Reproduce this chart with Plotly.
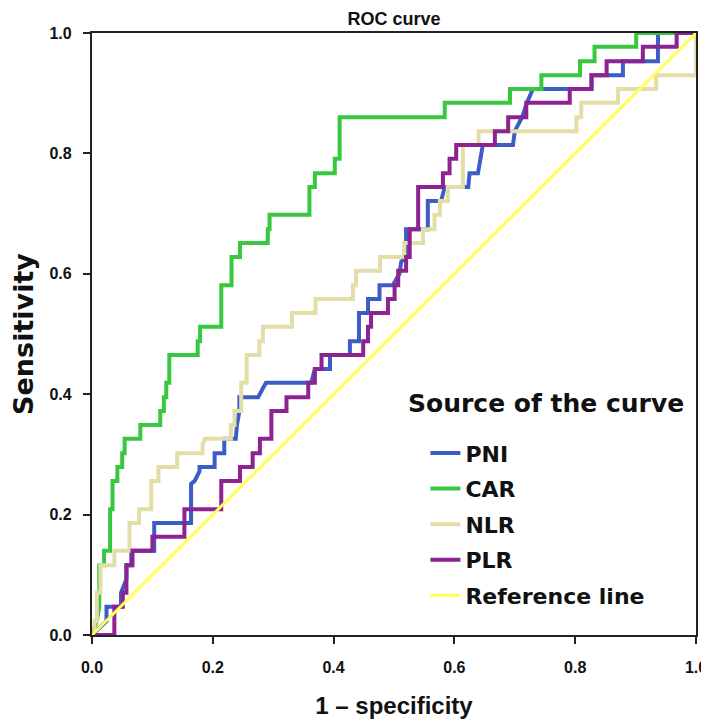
import plotly.graph_objects as go

# ROC curve coordinates (1 - specificity, sensitivity)
pni_points = [(0, 0), (0.010, 0.010), (0.024, 0.023), (0.024, 0.047), (0.048, 0.047), (0.048, 0.070),
              (0.057, 0.093), (0.057, 0.116), (0.065, 0.116), (0.065, 0.140), (0.103, 0.140), (0.103, 0.186),
              (0.164, 0.186), (0.164, 0.251), (0.170, 0.256), (0.178, 0.272), (0.178, 0.279), (0.203, 0.279),
              (0.203, 0.302), (0.219, 0.302), (0.219, 0.326), (0.238, 0.326), (0.240, 0.349), (0.244, 0.372),
              (0.244, 0.395), (0.275, 0.395), (0.288, 0.419), (0.363, 0.419), (0.369, 0.442), (0.394, 0.442),
              (0.394, 0.465), (0.427, 0.465), (0.427, 0.488), (0.442, 0.488), (0.442, 0.535), (0.457, 0.535),
              (0.457, 0.558), (0.476, 0.558), (0.476, 0.581), (0.498, 0.581), (0.509, 0.600), (0.512, 0.620),
              (0.520, 0.628), (0.520, 0.674), (0.556, 0.674), (0.556, 0.721), (0.578, 0.721), (0.584, 0.744),
              (0.623, 0.744), (0.625, 0.767), (0.639, 0.767), (0.647, 0.814), (0.697, 0.814), (0.700, 0.837),
              (0.712, 0.860), (0.720, 0.884), (0.730, 0.907), (0.827, 0.907), (0.827, 0.930), (0.879, 0.930),
              (0.879, 0.953), (0.937, 0.953), (0.937, 1.0), (1.0, 1.0)]

car_points = [(0, 0), (0.008, 0.023), (0.012, 0.047), (0.012, 0.116), (0.020, 0.116), (0.020, 0.140),
              (0.030, 0.140), (0.030, 0.209), (0.034, 0.209), (0.034, 0.256), (0.042, 0.256), (0.042, 0.279),
              (0.050, 0.279), (0.050, 0.302), (0.054, 0.302), (0.054, 0.326), (0.080, 0.326), (0.080, 0.349),
              (0.113, 0.349), (0.113, 0.372), (0.119, 0.372), (0.119, 0.395), (0.123, 0.395), (0.123, 0.419),
              (0.128, 0.419), (0.128, 0.465), (0.175, 0.465), (0.175, 0.488), (0.179, 0.488), (0.179, 0.512),
              (0.214, 0.512), (0.214, 0.581), (0.231, 0.581), (0.231, 0.628), (0.245, 0.628), (0.245, 0.651),
              (0.291, 0.651), (0.291, 0.674), (0.294, 0.674), (0.294, 0.698), (0.360, 0.698), (0.360, 0.744),
              (0.369, 0.744), (0.369, 0.767), (0.402, 0.767), (0.402, 0.791), (0.410, 0.791), (0.410, 0.860),
              (0.584, 0.860), (0.584, 0.884), (0.692, 0.884), (0.692, 0.907), (0.744, 0.907), (0.744, 0.930),
              (0.808, 0.930), (0.808, 0.953), (0.832, 0.953), (0.832, 0.977), (0.901, 0.977), (0.901, 1.0),
              (1.0, 1.0)]

nlr_points = [(0, 0), (0.004, 0.0), (0.004, 0.023), (0.008, 0.023), (0.008, 0.070), (0.014, 0.070),
              (0.014, 0.116), (0.037, 0.116), (0.037, 0.140), (0.062, 0.140), (0.062, 0.186), (0.078, 0.186),
              (0.078, 0.209), (0.098, 0.209), (0.098, 0.256), (0.110, 0.256), (0.110, 0.279), (0.141, 0.279),
              (0.141, 0.302), (0.183, 0.302), (0.183, 0.316), (0.187, 0.326), (0.230, 0.326), (0.230, 0.349),
              (0.236, 0.349), (0.236, 0.372), (0.247, 0.372), (0.247, 0.419), (0.256, 0.419), (0.256, 0.465),
              (0.277, 0.465), (0.277, 0.488), (0.283, 0.488), (0.283, 0.512), (0.331, 0.512), (0.331, 0.535),
              (0.370, 0.535), (0.370, 0.558), (0.432, 0.558), (0.432, 0.581), (0.437, 0.581), (0.437, 0.605),
              (0.477, 0.605), (0.477, 0.628), (0.517, 0.628), (0.517, 0.651), (0.548, 0.651), (0.548, 0.674),
              (0.567, 0.674), (0.567, 0.698), (0.576, 0.698), (0.576, 0.721), (0.589, 0.721), (0.589, 0.744),
              (0.614, 0.744), (0.614, 0.814), (0.640, 0.814), (0.640, 0.837), (0.802, 0.837), (0.802, 0.860),
              (0.810, 0.860), (0.810, 0.884), (0.871, 0.884), (0.871, 0.907), (0.934, 0.907), (0.934, 0.930),
              (1.0, 0.930), (1.0, 1.0)]

plr_points = [(0, 0), (0.037, 0.0), (0.037, 0.047), (0.051, 0.047), (0.051, 0.070), (0.057, 0.070),
              (0.057, 0.116), (0.067, 0.116), (0.067, 0.140), (0.100, 0.140), (0.100, 0.163), (0.153, 0.163),
              (0.153, 0.209), (0.214, 0.209), (0.214, 0.256), (0.245, 0.256), (0.245, 0.279), (0.266, 0.279),
              (0.266, 0.302), (0.278, 0.302), (0.278, 0.326), (0.297, 0.326), (0.297, 0.372), (0.322, 0.372),
              (0.322, 0.395), (0.358, 0.395), (0.358, 0.419), (0.369, 0.419), (0.369, 0.442), (0.380, 0.442),
              (0.380, 0.465), (0.449, 0.465), (0.449, 0.488), (0.457, 0.488), (0.457, 0.512), (0.462, 0.512),
              (0.462, 0.535), (0.490, 0.535), (0.490, 0.558), (0.501, 0.558), (0.501, 0.581), (0.507, 0.581),
              (0.507, 0.605), (0.520, 0.605), (0.520, 0.628), (0.526, 0.628), (0.526, 0.674), (0.540, 0.674),
              (0.540, 0.744), (0.581, 0.744), (0.581, 0.767), (0.592, 0.767), (0.592, 0.791), (0.603, 0.791),
              (0.603, 0.814), (0.667, 0.814), (0.667, 0.837), (0.689, 0.837), (0.689, 0.860), (0.719, 0.860),
              (0.719, 0.884), (0.791, 0.884), (0.791, 0.907), (0.827, 0.907), (0.827, 0.930), (0.852, 0.930),
              (0.852, 0.953), (0.912, 0.953), (0.912, 0.977), (0.968, 0.977), (0.968, 1.0), (1.0, 1.0)]

reference_points = [(0, 0), (1, 1)]

series_names = ["PNI", "CAR", "NLR", "PLR", "Reference line"]
series_colors = ["#3C5CC6", "#38C840", "#E3DDA8", "#8C2390", "#FFFF55"]
series_widths = [4, 4, 4, 4, 3]
tick_values = [0.0, 0.2, 0.4, 0.6, 0.8, 1.0]
tick_labels = ["0.0", "0.2", "0.4", "0.6", "0.8", "1.0"]
legend_title = "Source of the curve"

all_points = [pni_points, car_points, nlr_points, plr_points, reference_points]

narrow = "Liberation Sans Narrow, Arial Narrow, Liberation Sans, Arial, sans-serif"
sans = "Liberation Sans, Arial, sans-serif"
wide = "DejaVu Sans, Verdana, sans-serif"

# the page body keeps its default 8 px margin, so the figure is 8 px smaller each way
W, H = 701, 714

fig = go.Figure()
for name, pts, col, w in zip(series_names, all_points, series_colors, series_widths):
    fig.add_trace(go.Scatter(
        x=[p[0] for p in pts], y=[p[1] for p in pts], mode="lines", name=name,
        line=dict(color=col, width=w), legendgroup=name,
    ))

axis_common = dict(
    range=[0, 1], tickvals=tick_values, ticktext=tick_labels,
    ticks="outside", ticklen=7, tickwidth=1.5, tickcolor="#222",
    showline=True, linewidth=2.2, linecolor="#222", mirror=True,
    showgrid=False, zeroline=False, automargin=False,
    tickfont=dict(family=narrow, size=16, color="#111", weight="bold"),
)

fig.update_layout(
    width=W, height=H,
    margin=dict(l=84, r=13, t=25, b=87, autoexpand=False),
    paper_bgcolor="white", plot_bgcolor="white",
    title=dict(text="ROC curve", x=(84 + 688) / 2 / W, xanchor="center", y=1 - 11 / H, yanchor="middle",
               font=dict(family=sans, size=18, color="#111", weight="bold")),
    xaxis=dict(axis_common, ticklabelstandoff=10,
               title=dict(text="1 – specificity", standoff=22,
                          font=dict(family=narrow, size=24, color="#111", weight="bold"))),
    yaxis=dict(axis_common, ticklabelstandoff=8,
               title=dict(text="Sensitivity", standoff=25,
                          font=dict(family=wide, size=27, color="#111", weight="bold"))),
    legend=dict(
        x=0.552, y=0.337, xanchor="left", yanchor="top",
        bgcolor="rgba(0,0,0,0)", borderwidth=0,
        font=dict(family=wide, size=22, color="#111", weight="bold"),
        tracegroupgap=4, itemwidth=30,
    ),
    annotations=[dict(
        text=legend_title, xref="paper", yref="paper",
        x=(406 - 92.3) / 604, y=(635 - 403) / 602.5, xanchor="left", yanchor="middle",
        showarrow=False, font=dict(family=wide, size=25, color="#111", weight="bold"),
    )],
    showlegend=True,
)

fig.write_html("out.html")
